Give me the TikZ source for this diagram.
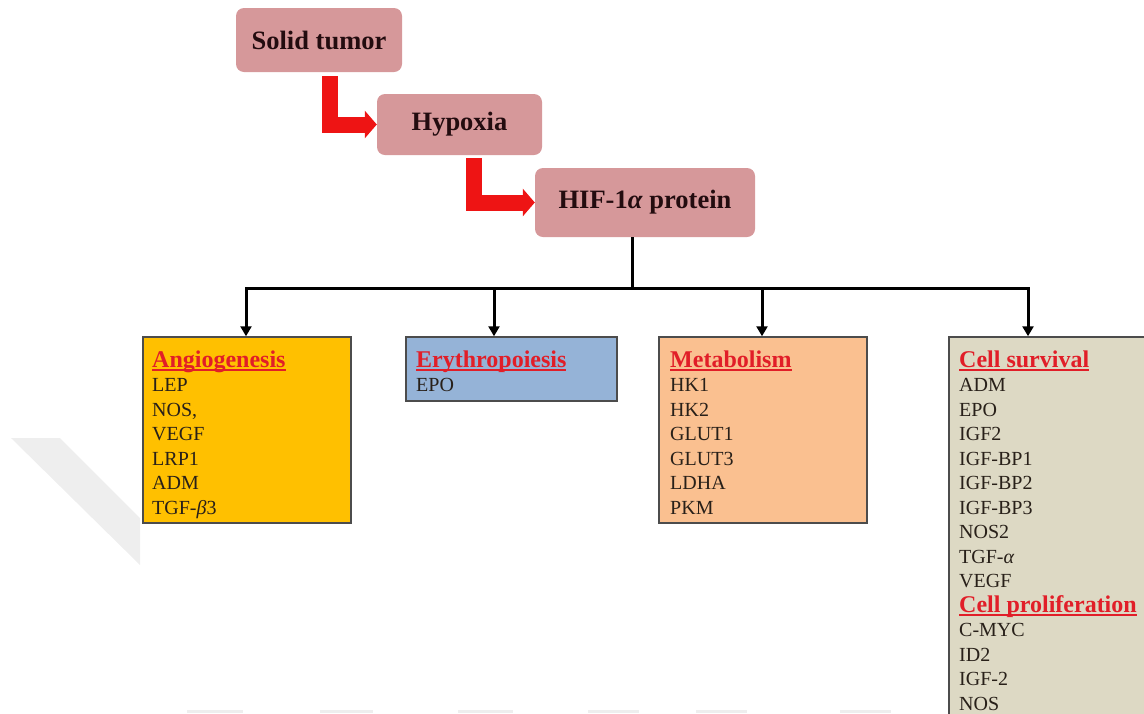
\documentclass[tikz,border=0pt]{standalone}
\usepackage{fontspec}
\setmainfont{Liberation Serif}
\usetikzlibrary{arrows.meta,fit,calc}

\definecolor{pinkbox}{RGB}{214,152,154}
\definecolor{redarr}{RGB}{238,20,20}
\definecolor{hdred}{RGB}{225,30,40}
\definecolor{angfill}{RGB}{255,192,0}
\definecolor{eryfill}{RGB}{149,179,215}
\definecolor{metfill}{RGB}{250,192,144}
\definecolor{csfill}{RGB}{221,217,196}
\definecolor{wmgray}{RGB}{238,238,238}
\definecolor{pinktext}{RGB}{35,12,15}
\definecolor{bodytext}{RGB}{40,32,25}

\newcommand{\hdul}[1]{\setbox0=\hbox{#1}\rlap{\color{hdred}\rule[-3.6pt]{\wd0}{1.8pt}}\box0}
\newcommand{\hd}[1]{\rule{0pt}{18pt}{\fontsize{24}{24.5}\selectfont\bfseries\color{hdred}\hdul{#1}}}

\tikzset{
  pbox/.style={rectangle, rounded corners=8pt, fill=pinkbox, draw=none, inner sep=0pt,
    text=pinktext, font=\fontsize{26.5}{30}\selectfont\bfseries},
  gbox/.style={rectangle, draw=black!70, line width=1.5pt, inner sep=0pt},
  txt/.style={inner sep=0pt, align=left, anchor=north west, text=bodytext,
    font=\fontsize{20}{24.5}\selectfont},
  redarrow/.style={draw=redarr, line width=16pt, line join=miter,
    -{Triangle[width=27pt,length=12pt,fill=redarr]}},
  conn/.style={draw=black, line width=3pt, line join=miter,
    -{Triangle[width=11pt,length=10pt]}}
}

\begin{document}
\begin{tikzpicture}[x=1pt,y=-1pt]
\useasboundingbox (0,0) rectangle (1144,713);
\clip (0,0) rectangle (1144,713);

% watermark
\fill[wmgray] (11,438) -- (60,438) -- (140,518) -- (140,565) -- cycle;
\foreach \a/\b in {187/243,320/373,458/513,588/639,696/747,840/891}
  \fill[wmgray] (\a,710) rectangle (\b,713);

% top chain
\node[pbox, minimum width=166pt, minimum height=64pt] (st) at (319,40) {Solid tumor};
\node[pbox, minimum width=165pt, minimum height=61pt] (hyp) at (459.5,124.5) {Hypoxia};
\node[pbox, minimum width=220pt, minimum height=69pt] (hif) at (645,202.5) {HIF-1\textit{α} protein};

\coordinate (r1) at (330,0);
\coordinate (r2) at (474,0);
\draw[redarrow, shorten <=4pt] (st.south -| r1) |- (hyp.west);
\draw[redarrow, shorten <=3pt] (hyp.south -| r2) |- (hif.west);

% category boxes
\node[gbox, fill=angfill, fit={(143,337)(351,523)}] (ang) {};
\node[gbox, fill=eryfill, fit={(406,337)(617,401)}] (ery) {};
\node[gbox, fill=metfill, fit={(659,337)(867,523)}] (met) {};
\node[gbox, fill=csfill, fit={(949,337)(1160,760)}] (cs) {};

% connectors
\coordinate (j0) at (632,288);
\coordinate (jA) at (246,288);
\coordinate (jB) at (494,288);
\coordinate (jC) at (762,288);
\coordinate (jD) at (1028,288);
\draw[line width=3pt] (hif.south -| j0) -- (j0);
\draw[conn] (j0) -| (ang.north -| jA);
\draw[conn] (j0) -| (ery.north -| jB);
\draw[conn] (j0) -| (met.north -| jC);
\draw[conn] (j0) -| (cs.north -| jD);

% texts
\node[txt] (angt) at (152,349) {\hd{Angiogenesis}\\LEP\\NOS,\\VEGF\\LRP1\\ADM\\TGF-\textit{β}3};
\node[txt] (eryt) at (416,349) {\hd{Erythropoiesis}\\EPO};
\node[txt] (mett) at (670,349) {\hd{Metabolism}\\HK1\\HK2\\GLUT1\\GLUT3\\LDHA\\PKM};
\node[txt] (cst) at (959,349) {\hd{Cell survival}\\ADM\\EPO\\IGF2\\IGF-BP1\\IGF-BP2\\IGF-BP3\\NOS2\\TGF-\textit{α}\\VEGF\\\hd{Cell proliferation}\\C-MYC\\ID2\\IGF-2\\NOS};
\end{tikzpicture}
\end{document}
